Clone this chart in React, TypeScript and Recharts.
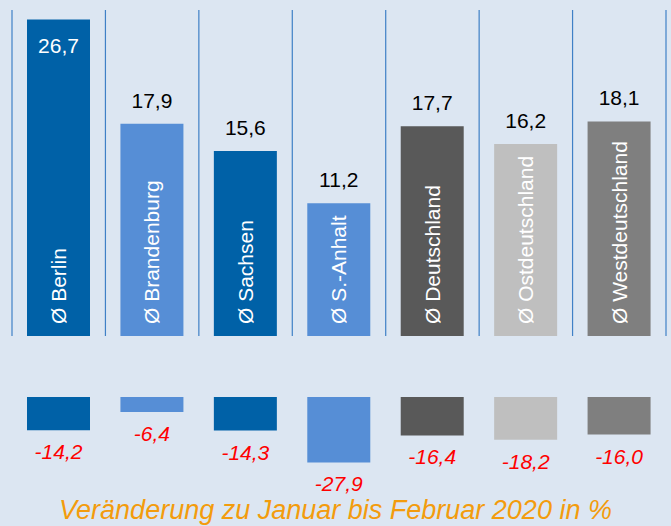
import { BarChart, Bar, XAxis, YAxis, Cell, LabelList, ReferenceLine } from 'recharts';

const categories = ['Ø Berlin', 'Ø Brandenburg', 'Ø Sachsen', 'Ø S.-Anhalt', 'Ø Deutschland', 'Ø Ostdeutschland', 'Ø Westdeutschland'];
const averages = [26.7, 17.9, 15.6, 11.2, 17.7, 16.2, 18.1];
const changes = [-14.2, -6.4, -14.3, -27.9, -16.4, -18.2, -16.0];
const colors = ['#0061a7', '#568ed6', '#0061a7', '#568ed6', '#595959', '#bfbfbf', '#7f7f7f'];
const caption = 'Veränderung zu Januar bis Februar 2020 in %';

const topData = categories.map((name, i) => ({ name, value: averages[i] }));
const bottomData = categories.map((name, i) => ({ name, value: changes[i] }));

// separator lines at the start of every category band, plus the end of the last one
const separators = [
  ...categories.map((name) => ({ name, position: 'start' as const })),
  { name: categories[categories.length - 1], position: 'end' as const },
];

const FONT = '"Liberation Sans", Arial, sans-serif';
const fmt = (v: number) => v.toFixed(1).replace('.', ',');

const renderValue = (props: any) => {
  const { x, y, width, value } = props;
  const inside = value > 25;
  return (
    <text x={x + width / 2} y={inside ? y + 34 : y - 16} fill={inside ? '#fff' : '#000'}
      textAnchor="middle" fontSize={21} fontFamily={FONT}>
      {fmt(value)}
    </text>
  );
};

const renderName = (props: any) => {
  const { x, y, width, height, value } = props;
  const cx = x + width / 2;
  const by = y + height - 12;
  return (
    <text transform={`rotate(-90 ${cx} ${by})`} x={cx} y={by} dy="0.36em" fill="#fff"
      fontSize={21} fontFamily={FONT}>
      {value}
    </text>
  );
};

const renderChange = (props: any) => {
  const { x, y, width, height, value } = props;
  const bottom = Math.max(y, y + height);
  return (
    <text x={x + width / 2} y={bottom + 14} dy="0.71em" fill="#ff0000" textAnchor="middle"
      fontSize={21} fontStyle="italic" fontFamily={FONT}>
      {fmt(value)}
    </text>
  );
};

export default function App() {
  return (
    <div style={{ position: 'absolute', left: 0, top: 0, width: 671, height: 526, background: '#dce6f2', fontFamily: FONT }}>
      <div style={{ position: 'absolute', left: 0, top: 0 }}>
        <BarChart width={671} height={340} data={topData} margin={{ top: 4, right: 5, bottom: 4, left: 12 }}>
          <XAxis dataKey="name" hide />
          <YAxis domain={[0, 28]} hide />
          {separators.map((s, i) => (
            <ReferenceLine key={i} position={s.position} segment={[{ x: s.name, y: 0 }, { x: s.name, y: 27.5 }]}
              stroke="#3f80c6" strokeWidth={1.2} ifOverflow="visible" />
          ))}
          <Bar dataKey="value" barSize={63} isAnimationActive={false}>
            {topData.map((d, i) => <Cell key={d.name} fill={colors[i]} />)}
            <LabelList dataKey="value" content={renderValue} />
            <LabelList dataKey="name" content={renderName} />
          </Bar>
        </BarChart>
      </div>
      <div style={{ position: 'absolute', left: 0, top: 380 }}>
        <BarChart width={671} height={120} data={bottomData} margin={{ top: 17, right: 5, bottom: 32.5, left: 12 }}>
          <XAxis dataKey="name" hide />
          <YAxis domain={[-30, 0]} hide />
          <Bar dataKey="value" barSize={63} isAnimationActive={false}>
            {bottomData.map((d, i) => <Cell key={d.name} fill={colors[i]} />)}
            <LabelList dataKey="value" content={renderChange} />
          </Bar>
        </BarChart>
      </div>
      <div style={{ position: 'absolute', left: 0, top: 495, width: 671, textAlign: 'center', fontSize: 27, fontStyle: 'italic', color: '#f39c0d', lineHeight: '30px' }}>
        {caption}
      </div>
    </div>
  );
}
